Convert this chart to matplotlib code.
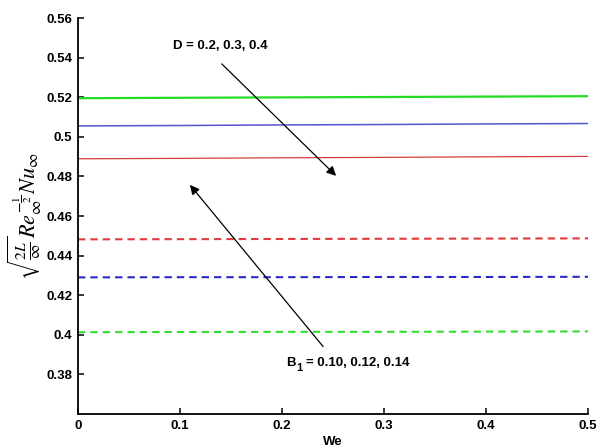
import matplotlib
matplotlib.use("Agg")
import matplotlib.pyplot as plt
from matplotlib.ticker import FuncFormatter

plt.rcParams['font.family'] = ['Liberation Sans', 'DejaVu Sans']
plt.rcParams['mathtext.fontset'] = 'stix'
plt.rcParams['lines.scale_dashes'] = False

# Data
we = [0.0, 0.1, 0.2, 0.3, 0.4, 0.5]
solid_green = [0.5195, 0.5197, 0.5199, 0.5201, 0.5203, 0.5205]
solid_blue = [0.5055, 0.5057, 0.5060, 0.5062, 0.5065, 0.5067]
solid_red = [0.4889, 0.4891, 0.4894, 0.4896, 0.4899, 0.4901]
dash_red = [0.4482, 0.4483, 0.4484, 0.4485, 0.4486, 0.4487]
dash_blue = [0.4290, 0.4291, 0.4291, 0.4292, 0.4292, 0.4293]
dash_green = [0.4013, 0.4014, 0.4015, 0.4015, 0.4016, 0.4017]
xticks = [0, 0.1, 0.2, 0.3, 0.4, 0.5]
yticks = [0.38, 0.40, 0.42, 0.44, 0.46, 0.48, 0.50, 0.52, 0.54, 0.56]

fig = plt.figure(figsize=(6.07, 4.48), dpi=100)
ax = fig.add_axes([78/607, 34/448, 510/607, 396/448])

ax.plot(we, solid_green, color='#22dd22', lw=1.6)
ax.plot(we, solid_blue, color='#5555cc', lw=1.1)
ax.plot(we, solid_red, color='#d04040', lw=0.9)
ax.plot(we, dash_red, color='#e03a3a', lw=1.5, dashes=(5.3, 3.6))
ax.plot(we, dash_blue, color='#2a2acc', lw=1.5, dashes=(5.3, 3.6))
ax.plot(we, dash_green, color='#33dd33', lw=1.5, dashes=(5.3, 3.6))

ax.set_xlim(0, 0.5)
ax.set_ylim(0.36, 0.56)
ax.set_xticks(xticks)
ax.set_yticks(yticks)
fmt = FuncFormatter(lambda v, p: ('%g' % round(v, 4)))
ax.xaxis.set_major_formatter(fmt)
ax.yaxis.set_major_formatter(fmt)
ax.spines['top'].set_visible(False)
ax.spines['right'].set_visible(False)
for s in ('left', 'bottom'):
    ax.spines[s].set_linewidth(1.3)
ax.tick_params(direction='in', length=4, width=1.1, labelsize=9.5, pad=4)
for lab in ax.get_xticklabels() + ax.get_yticklabels():
    lab.set_fontweight('bold')

ax.set_xlabel('We', fontsize=9.5, fontweight='bold', labelpad=3)
ax.set_ylabel(r'$\sqrt{\frac{2L}{\infty}}Re_{\infty}^{-\frac{1}{2}}Nu_{\infty}$', fontsize=16, labelpad=2)

ax.annotate('', xy=(0.255, 0.4793), xytext=(0.139, 0.5378),
            arrowprops=dict(arrowstyle='-|>', color='black', lw=0.9, mutation_scale=14))
ax.annotate('', xy=(0.108, 0.4768), xytext=(0.242, 0.393),
            arrowprops=dict(arrowstyle='-|>', color='black', lw=0.9, mutation_scale=14))

ax.text(0.093, 0.546, 'D = 0.2, 0.3, 0.4', fontsize=9.5, fontweight='bold', va='center', ha='left')
ax.text(0.204, 0.386, 'B', fontsize=9.5, fontweight='bold', va='center', ha='left')
ax.text(0.2135, 0.3832, '1', fontsize=8, fontweight='bold', va='center', ha='left')
ax.text(0.2235, 0.386, '= 0.10, 0.12, 0.14', fontsize=9.5, fontweight='bold', va='center', ha='left')

fig.savefig('out.png', dpi=100)
